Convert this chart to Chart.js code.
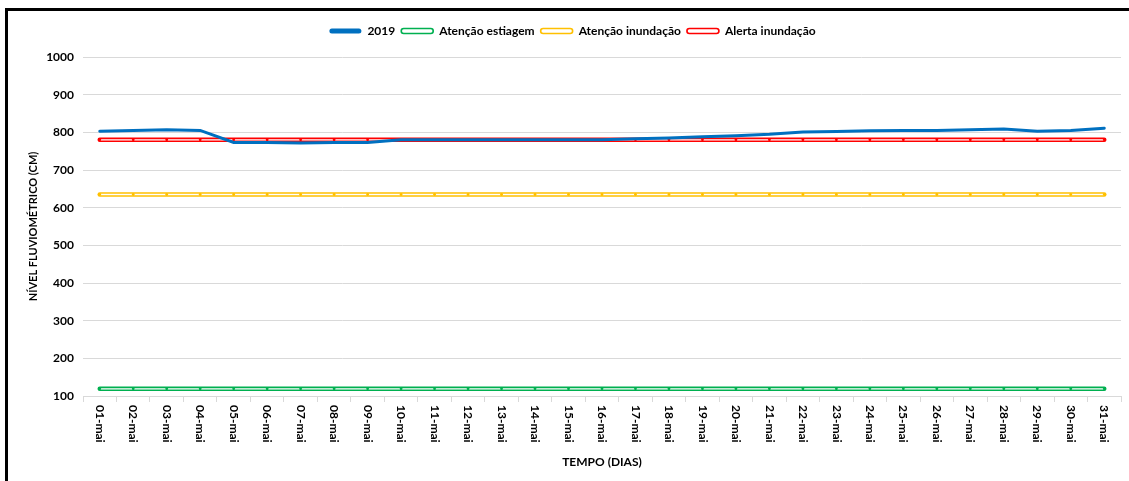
<!DOCTYPE html>
<html>
<head>
<meta charset="utf-8">
<script src="https://cdn.jsdelivr.net/npm/chart.js@4/dist/chart.umd.min.js"></script>
<style>
  html, body { margin: 0; padding: 0; background: #fff; }
  #wrap { position: relative; width: 1129px; height: 481px; }
</style>
</head>
<body>
<div id="wrap"><canvas id="c" width="1129" height="481"></canvas></div>
<script>
const categories = ['01-mai','02-mai','03-mai','04-mai','05-mai','06-mai','07-mai','08-mai','09-mai','10-mai',
  '11-mai','12-mai','13-mai','14-mai','15-mai','16-mai','17-mai','18-mai','19-mai','20-mai',
  '21-mai','22-mai','23-mai','24-mai','25-mai','26-mai','27-mai','28-mai','29-mai','30-mai','31-mai'];
const nivel2019 = [803,805,807,805,773,773,772,773,773,780,780,780,780,780,780,780,783,785,788,791,795,801,802,804,805,805,807,809,803,805,811];
const atencaoEstiagem = [119,119,119,119,119,119,119,119,119,119,119,119,119,119,119,119,119,119,119,119,119,119,119,119,119,119,119,119,119,119,119];
const atencaoInundacao = [635,635,635,635,635,635,635,635,635,635,635,635,635,635,635,635,635,635,635,635,635,635,635,635,635,635,635,635,635,635,635];
const alertaInundacao = [780,780,780,780,780,780,780,780,780,780,780,780,780,780,780,780,780,780,780,780,780,780,780,780,780,780,780,780,780,780,780];
const yTicks = [100,200,300,400,500,600,700,800,900,1000];

const FONT = 'Lato';
const BLUE = '#0070C0', GREEN = '#00B050', YELLOW = '#FFC000', RED = '#FF0000';

function outer(label, data, color) {
  return { label, data, borderColor: color, backgroundColor: color, borderWidth: 4.5,
    pointRadius: 0, borderCapStyle: 'round', tension: 0, order: 3, fill: false };
}
function inner(data, color) {
  return { label: '_inner', data, borderColor: '#ffffff', borderWidth: 1.4, pointRadius: 1.4,
    pointBackgroundColor: color, pointBorderWidth: 0, pointHoverRadius: 0, tension: 0, order: 2, fill: false };
}

const bgPlugin = {
  id: 'bg',
  afterInit(chart) {
    const lg = chart.legend;
    if (lg) {
      const origFit = lg.fit;
      lg.fit = function () { origFit.call(this); this.height += 10; };
      const origDraw = lg.draw;
      lg.draw = function () {
        const ctx = this.ctx;
        ctx.save(); ctx.translate(6, 0); origDraw.call(this); ctx.restore();
      };
    }
  },
  beforeDraw(chart) {
    const ctx = chart.ctx;
    ctx.save();
    ctx.fillStyle = '#fff';
    ctx.fillRect(0, 0, chart.width, chart.height);
    ctx.fillStyle = '#000';
    ctx.fillRect(5, 8, 3, chart.height - 8);
    ctx.fillRect(5, 8, chart.width - 5, 3);
    ctx.restore();
  }
};

const xLabelPlugin = {
  id: 'xlabels',
  afterDraw(chart) {
    const ctx = chart.ctx;
    const xs = chart.scales.x;
    ctx.save();
    ctx.font = 'bold 12px ' + FONT;
    ctx.fillStyle = '#000';
    ctx.textAlign = 'left';
    ctx.textBaseline = 'middle';
    categories.forEach((lab, i) => {
      const x = xs.getPixelForTick(i);
      ctx.save();
      ctx.translate(x, xs.top + 9);
      ctx.rotate(Math.PI / 2);
      ctx.fillText(lab, 0, 0);
      ctx.restore();
    });
    ctx.restore();
  }
};

new Chart(document.getElementById('c'), {
  type: 'line',
  data: {
    labels: categories,
    datasets: [
      { label: '2019', data: nivel2019, borderColor: BLUE, backgroundColor: BLUE, borderWidth: 3,
        pointRadius: 0, tension: 0, order: 0, fill: false, borderCapStyle: 'round' },
      outer('Atenção estiagem', atencaoEstiagem, GREEN),
      outer('Atenção inundação', atencaoInundacao, YELLOW),
      outer('Alerta inundação', alertaInundacao, RED),
      inner(atencaoEstiagem, GREEN),
      inner(atencaoInundacao, YELLOW),
      inner(alertaInundacao, RED)
    ]
  },
  options: {
    responsive: false,
    animation: false,
    layout: { padding: { left: 12, right: 8, top: 19, bottom: 5 } },
    plugins: {
      tooltip: { enabled: false },
      legend: {
        position: 'top',
        labels: {
          font: { family: FONT, size: 12, weight: 'bold' },
          color: '#000',
          boxWidth: 32,
          boxHeight: 5,
          padding: 6,
          useBorderRadius: true,
          borderRadius: 2.5,
          filter: (item) => item.datasetIndex < 4,
          generateLabels(chart) {
            return chart.data.datasets.map((ds, i) => ({
              text: ds.label,
              fillStyle: i === 0 ? ds.borderColor : '#ffffff',
              strokeStyle: ds.borderColor,
              lineWidth: i === 0 ? 0 : 1.6,
              hidden: false,
              datasetIndex: i,
              borderRadius: 2.5,
              fontColor: '#000'
            }));
          }
        }
      }
    },
    scales: {
      x: {
        offset: true,
        grid: { display: true, offset: true, drawOnChartArea: false, drawTicks: true, tickLength: 6, color: '#d9d9d9' },
        border: { display: true, color: '#d9d9d9', width: 1 },
        ticks: { display: true, color: 'rgba(0,0,0,0)', font: { family: FONT, size: 12, weight: 'bold' },
          minRotation: 90, maxRotation: 90, autoSkip: false },
        title: { display: true, text: 'TEMPO (DIAS)', color: '#000', font: { family: FONT, size: 12, weight: 'bold' },
          padding: { top: 7, bottom: 7 } },
        afterFit(scale) { scale.height = 80; }
      },
      y: {
        min: 100, max: 1000,
        afterBuildTicks(scale) { scale.ticks = yTicks.map(v => ({ value: v })); },
        grid: { color: '#d9d9d9', lineWidth: 1, drawTicks: false },
        border: { display: false },
        ticks: { color: '#000', padding: 9, font: { family: FONT, size: 12, weight: 'bold' },
          callback: (v) => String(v) },
        title: { display: true, text: 'NÍVEL FLUVIOMÉTRICO (CM)', color: '#000',
          font: { family: FONT, size: 11, weight: 'bold' }, padding: { top: 15, bottom: 0 } },
        afterFit(scale) { scale.width = 71; }
      }
    }
  },
  plugins: [bgPlugin, xLabelPlugin]
});
</script>
</body>
</html>
